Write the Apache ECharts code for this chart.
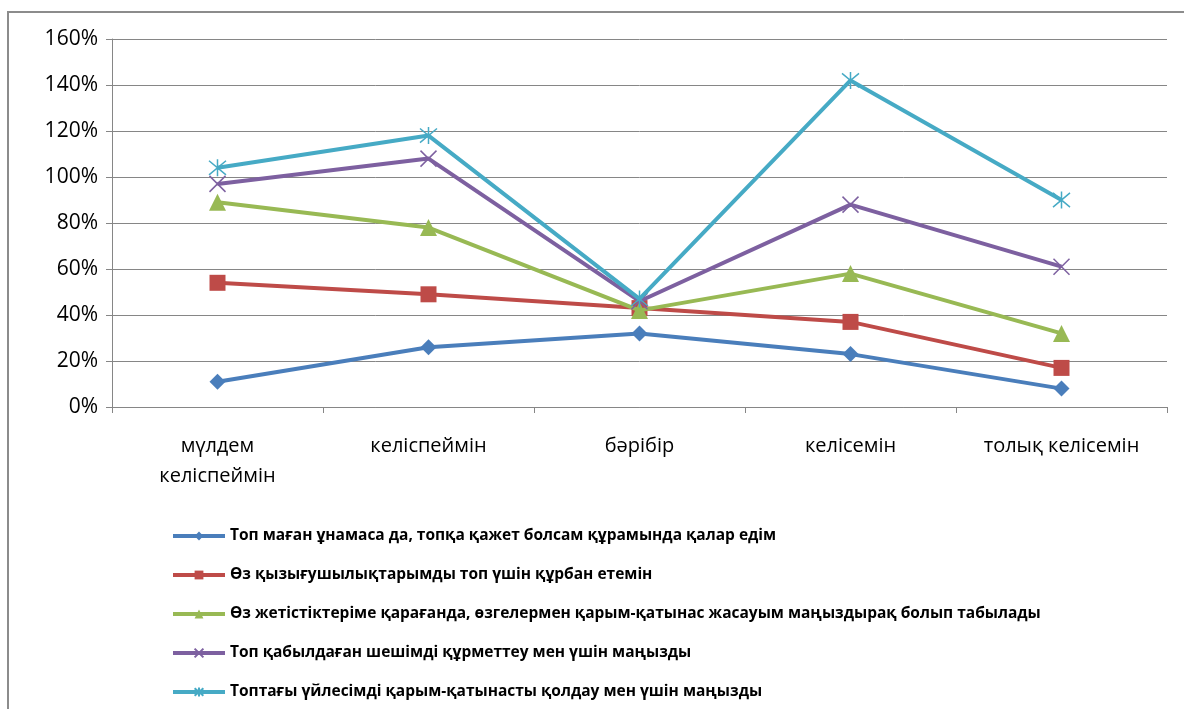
<!DOCTYPE html>
<html>
<head>
<meta charset="utf-8">
<script src="https://cdn.jsdelivr.net/npm/echarts@6/dist/echarts.min.js"></script>
<style>
html,body{margin:0;padding:0;background:#fff;}
#chart{width:1184px;height:709px;}
</style>
</head>
<body>
<div id="chart"></div>
<script>
var categories = ['мүлдем\nкеліспеймін', 'келіспеймін', 'бәрібір', 'келісемін', 'толық келісемін'];
var seriesNames = [
  'Топ маған ұнамаса да, топқа қажет болсам құрамында қалар едім',
  'Өз қызығушылықтарымды топ үшін құрбан етемін',
  'Өз жетістіктеріме қарағанда, өзгелермен қарым-қатынас жасауым маңыздырақ болып табылады',
  'Топ қабылдаған шешімді құрметтеу мен үшін маңызды',
  'Топтағы үйлесімді қарым-қатынасты қолдау мен үшін маңызды'
];
var valuesBlue   = [11, 26, 32, 23, 8];
var valuesRed    = [54, 49, 43, 37, 17];
var valuesGreen  = [89, 78, 42, 58, 32];
var valuesPurple = [97, 108, 46, 88, 61];
var valuesCyan   = [104, 118, 47, 142, 90];
var yTicks = [0, 20, 40, 60, 80, 100, 120, 140, 160];

var FONT = "'Open Sans', sans-serif";
var colors = ['#4A7EBB', '#BE4B48', '#98B954', '#7D60A0', '#46AAC5'];
var symbols = [
  'diamond',
  'rect',
  'triangle',
  'path://M0,0L10,10M10,0L0,10',
  'path://M0,0L10,10M10,0L0,10M5,-1L5,11'
];
var symbolSizes = [16, 16, 17, 16, 17];
var allValues = [valuesBlue, valuesRed, valuesGreen, valuesPurple, valuesCyan];

var chart = echarts.init(document.getElementById('chart'), null, {renderer: 'canvas'});
var series = allValues.map(function (vals, i) {
  var stroked = i >= 3;
  return {
    name: seriesNames[i],
    type: 'line',
    data: vals,
    symbol: symbols[i],
    symbolSize: symbolSizes[i],
    showAllSymbol: true,
    lineStyle: {color: colors[i], width: 4},
    itemStyle: stroked ? {color: 'rgba(0,0,0,0)', borderColor: colors[i], borderWidth: 1.5} : {color: colors[i], borderWidth: 0},
    emphasis: {disabled: true},
    animation: false,
    z: 2 + i
  };
});

chart.setOption({
  animation: false,
  color: colors,
  textStyle: {fontFamily: FONT},
  graphic: [{
    type: 'rect',
    shape: {x: 8, y: 12, width: 1300, height: 800},
    style: {fill: 'none', stroke: '#8c8c8c', lineWidth: 2},
    silent: true
  }],
  grid: {left: 112, right: 17, top: 39, bottom: 302, containLabel: false},
  legend: {
    orient: 'vertical',
    left: 166,
    top: 523,
    itemWidth: 52,
    itemHeight: 11,
    itemGap: 23,
    lineStyle: {width: 4},
    textStyle: {fontFamily: FONT, fontSize: 15.5, color: '#000', fontWeight: 'bold'},
    data: seriesNames
  },
  xAxis: {
    type: 'category',
    data: categories,
    boundaryGap: true,
    axisLine: {lineStyle: {color: '#868686', width: 1}},
    axisTick: {show: true, alignWithLabel: false, length: 6, lineStyle: {color: '#868686'}},
    axisLabel: {fontFamily: FONT, fontSize: 20, color: '#000', margin: 24, lineHeight: 30, interval: 0}
  },
  yAxis: {
    type: 'value',
    min: 0,
    max: 160,
    interval: 20,
    axisLine: {show: true, lineStyle: {color: '#868686', width: 1}},
    axisTick: {show: true, length: 6, lineStyle: {color: '#868686'}},
    splitLine: {lineStyle: {color: '#868686', width: 1}},
    axisLabel: {
      fontFamily: FONT, fontSize: 21, color: '#000', margin: 14,
      formatter: function (v) { return yTicks.indexOf(v) >= 0 ? v + '%' : ''; }
    }
  },
  series: series
});
</script>
</body>
</html>
